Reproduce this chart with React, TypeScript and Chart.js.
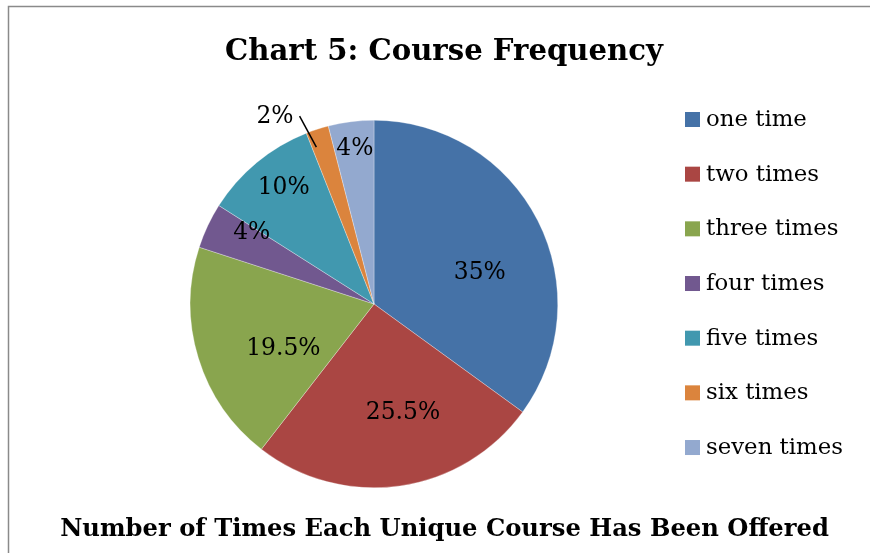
import { useEffect, useRef } from "react";
import { Chart, registerables } from "chart.js";

Chart.register(...registerables);

const titleText = "Chart 5: Course Frequency";
const captionText = "Number of Times Each Unique Course Has Been Offered";
const categories = ["one time", "two times", "three times", "four times", "five times", "six times", "seven times"];
const shares = [35, 25.5, 19.5, 4, 10, 2, 4];
const sliceColors = ["#4572A7", "#AA4643", "#89A54E", "#71588F", "#4198AF", "#DB843D", "#93A9CF"];

const FAMILY = '"DejaVu Serif", Georgia, serif';

function fitFont(ctx: CanvasRenderingContext2D, text: string, weight: string, target: number) {
  ctx.font = `${weight} 100px ${FAMILY}`;
  const w = ctx.measureText(text).width;
  const size = (100 * target) / w;
  return `${weight} ${size.toFixed(2)}px ${FAMILY}`;
}

// label placement within each slice: [fraction along the slice's angle, fraction of radius]
const labelPlacement: [number, number][] = [
  [0.585, 0.6],
  [0.426, 0.614],
  [0.369, 0.55],
  [0.85, 0.77],
  [0.547, 0.8],
  [0.0, 1.1],
  [0.51, 0.85],
];

const decorPlugin = {
  id: "decor",
  afterDraw(chart: any) {
    const ctx: CanvasRenderingContext2D = chart.ctx;
    ctx.save();
    // outer frame
    ctx.strokeStyle = "#8a8a8a";
    ctx.lineWidth = 1.5;
    ctx.strokeRect(8.5, 6.5, 900, 600);

    ctx.fillStyle = "#000";
    ctx.textAlign = "center";
    ctx.textBaseline = "alphabetic";
    ctx.font = fitFont(ctx, titleText, "bold", 438);
    ctx.fillText(titleText, 444, 60);

    ctx.font = fitFont(ctx, captionText, "bold", 769);
    ctx.fillText(captionText, 444.5, 536);

    // legend
    ctx.textAlign = "left";
    ctx.font = fitFont(ctx, "seven times", "normal", 137);
    categories.forEach((c, i) => {
      const top = 112 + i * 54.67;
      ctx.fillStyle = sliceColors[i];
      ctx.fillRect(685, top, 15, 15);
      ctx.fillStyle = "#000";
      ctx.fillText(c, 706, top + 14);
    });

    // data labels
    const meta = chart.getDatasetMeta(0);
    ctx.font = fitFont(ctx, "35%", "normal", 52);
    ctx.textBaseline = "middle";
    meta.data.forEach((arc: any, i: number) => {
      const p = arc.getProps(["x", "y", "startAngle", "endAngle", "outerRadius"], true);
      const [af, rf] = labelPlacement[i];
      const text = `${shares[i]}%`;
      if (rf > 1) {
        const aIn = p.startAngle + 0.2 * (p.endAngle - p.startAngle);
        const aOut = p.startAngle + af * (p.endAngle - p.startAngle);
        const x1 = p.x + Math.cos(aIn) * p.outerRadius * 0.91;
        const y1 = p.y + Math.sin(aIn) * p.outerRadius * 0.91;
        const x2 = p.x + Math.cos(aOut) * p.outerRadius * rf;
        const y2 = p.y + Math.sin(aOut) * p.outerRadius * rf;
        ctx.strokeStyle = "#000";
        ctx.lineWidth = 1.5;
        ctx.beginPath();
        ctx.moveTo(x1, y1);
        ctx.lineTo(x2, y2);
        ctx.stroke();
        ctx.textAlign = "right";
        ctx.fillText(text, x2 - 6, y2 + 1);
      } else {
        const a = p.startAngle + af * (p.endAngle - p.startAngle);
        const x = p.x + Math.cos(a) * p.outerRadius * rf;
        const y = p.y + Math.sin(a) * p.outerRadius * rf;
        ctx.textAlign = "center";
        ctx.fillText(text, x, y);
      }
    });
    ctx.restore();
  },
};

export default function App() {
  const ref = useRef<HTMLCanvasElement>(null);
  useEffect(() => {
    document.body.style.margin = "0";
    const chart = new Chart(ref.current!, {
      type: "pie",
      data: {
        labels: categories,
        datasets: [
          {
            data: shares,
            backgroundColor: sliceColors,
            borderColor: "rgba(255,255,255,0.6)",
            borderWidth: 0.5,
            hoverOffset: 0,
          },
        ],
      },
      options: {
        animation: false,
        responsive: false,
        devicePixelRatio: 1,
        layout: { padding: { left: 190, right: 312, top: 120, bottom: 65 } },
        plugins: {
          legend: { display: false },
          title: { display: false },
          tooltip: { enabled: false },
        },
      },
      plugins: [decorPlugin],
    });
    return () => chart.destroy();
  }, []);
  return (
    <div style={{ position: "fixed", left: 0, top: 0, width: 870, height: 553, background: "#fff" }}>
      <canvas ref={ref} width={870} height={553} />
    </div>
  );
}
